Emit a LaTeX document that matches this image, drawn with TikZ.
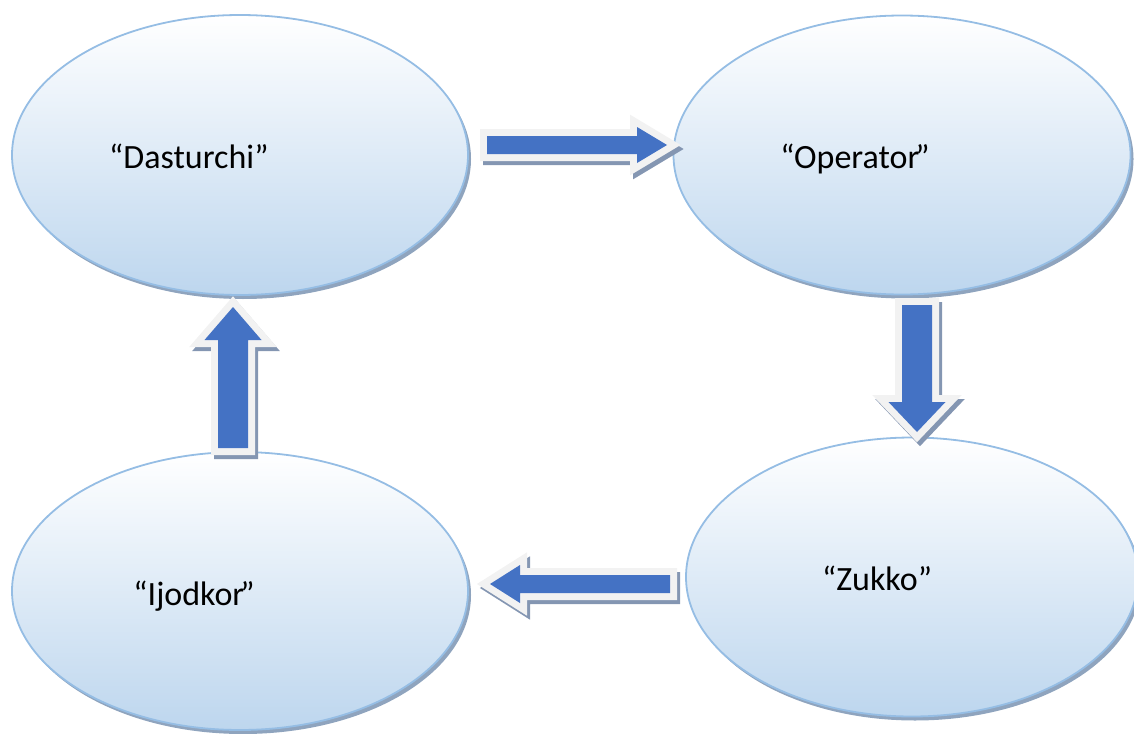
\documentclass[tikz,border=0pt]{standalone}
\usepackage{fontspec}
\setmainfont{Carlito}
\usetikzlibrary{shapes.geometric,shadows,calc}
\definecolor{arrowblue}{HTML}{4472C4}
\definecolor{arrowrim}{HTML}{F2F2F2}
\definecolor{arrowshade}{HTML}{8496B2}
\definecolor{ellborder}{HTML}{95BDE4}
\definecolor{ellbottom}{HTML}{BDD6EE}
\definecolor{ellshade}{HTML}{8FA4BE}
\tikzset{
  ell/.style={ellipse, draw=ellborder, line width=1.8pt, inner sep=0pt,
    top color=white, bottom color=ellbottom,
    drop shadow={shadow xshift=3pt, shadow yshift=-4pt, fill=ellshade, opacity=1}},
  lbl/.style={font=\fontsize{34}{40}\selectfont, text=black, inner sep=0pt},
  barshadow/.style={fill=arrowshade, draw=arrowshade, line width=14pt, line join=miter},
  barrim/.style={fill=arrowrim, draw=arrowrim, line width=14pt, line join=miter},
  barfill/.style={fill=arrowblue}
}
\newcommand\barrowpath[4]{($(#1)!#3!90:(#2)$) -- ($(#1hb)!#3!90:(#2)$) -- ($(#1hb)!#4!90:(#2)$) -- (#2) -- ($(#1hb)!#4!-90:(#2)$) -- ($(#1hb)!#3!-90:(#2)$) -- ($(#1)!#3!-90:(#2)$) -- cycle}
\newcommand\blockarrow[5]{%
  \coordinate (#1hb) at ($(#2)!#5!(#1)$);
  \filldraw[barshadow, transform canvas={xshift=3pt,yshift=-4pt}] \barrowpath{#1}{#2}{#3}{#4};
  \filldraw[barrim] \barrowpath{#1}{#2}{#3}{#4};
  \fill[barfill] \barrowpath{#1}{#2}{#3}{#4};
}
\begin{document}
\begin{tikzpicture}[x=1pt,y=-1pt]
\useasboundingbox (0,0) rectangle (1134,733);
\clip (0,0) rectangle (1134,733);
% ellipses
\node[ell, minimum width=456pt, minimum height=280pt] (A) at (240,155) {};
\node[ell, minimum width=457pt, minimum height=279pt] (B) at (902,155) {};
\node[ell, minimum width=452pt, minimum height=279pt] (C) at (912,577) {};
\node[ell, minimum width=456pt, minimum height=278pt] (D) at (240,591) {};
% labels
\node[lbl, anchor=base] (tA) at (189,168) {“Dasturchi”};
\node[lbl, anchor=base] (tB) at (855,168) {“Operator\kern-4pt”};
\node[lbl, anchor=base] (tC) at (877,590) {“Zukko”};
\node[lbl, anchor=base] (tD) at (194,605) {“Ijodkor\kern-4pt”};
% arrow ends
\coordinate (abt) at (487,145);  \coordinate (abh) at (667,145);
\coordinate (bct) at (917,305);  \coordinate (bch) at (917,432);
\coordinate (cdt) at (670,584);  \coordinate (cdh) at (490,584);
\coordinate (dat) at (233,448);  \coordinate (dah) at (233,307);
% block arrows
\blockarrow{abt}{abh}{9pt}{18pt}{30pt}
\blockarrow{bct}{bch}{15pt}{28.5pt}{30pt}
\blockarrow{cdt}{cdh}{9pt}{19pt}{30pt}
\blockarrow{dat}{dah}{15pt}{28.5pt}{33pt}
\end{tikzpicture}
\end{document}
